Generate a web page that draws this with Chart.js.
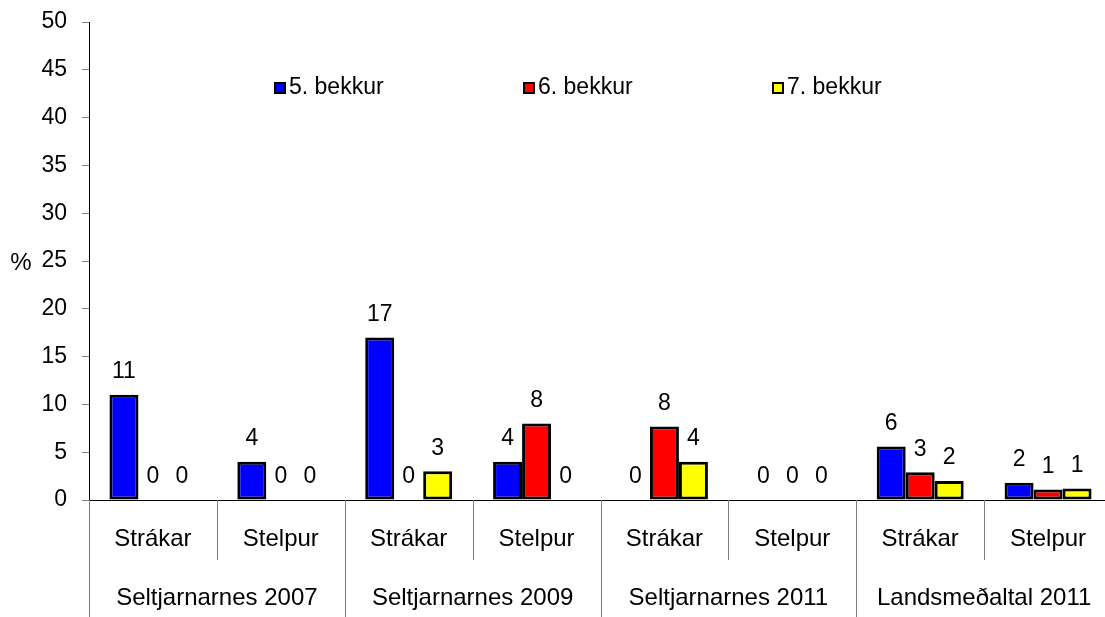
<!DOCTYPE html>
<html>
<head>
<meta charset="utf-8">
<script src="https://cdn.jsdelivr.net/npm/chart.js@4/dist/chart.umd.min.js"></script>
<style>
  html, body { margin: 0; padding: 0; background: #fff; overflow: hidden; }
  #wrap { width: 1112px; height: 617px; }
</style>
</head>
<body>
<div id="wrap"><canvas id="chart" width="1112" height="617"></canvas></div>
<script>
// data
const categories = ['Strákar', 'Stelpur', 'Strákar', 'Stelpur', 'Strákar', 'Stelpur', 'Strákar', 'Stelpur'];
const groups = ['Seltjarnarnes 2007', 'Seltjarnarnes 2009', 'Seltjarnarnes 2011', 'Landsmeðaltal 2011'];
const seriesNames = ['5. bekkur', '6. bekkur', '7. bekkur'];
const grade5 = [11, 4, 17, 4, 0, 0, 5.6, 1.8];
const grade6 = [0, 0, 0, 8, 7.7, 0, 2.9, 1.1];
const grade7 = [0, 0, 3, 0, 4, 0, 2, 1.2];
const yTicks = [0, 5, 10, 15, 20, 25, 30, 35, 40, 45, 50];

const colors = ['#0000ff', '#ff0000', '#ffff00'];
const FONT = '"Liberation Sans", Arial, sans-serif';

// value labels above bars
const valueLabels = {
    id: 'valueLabels',
    afterDatasetsDraw(chart) {
        const ctx = chart.ctx;
        ctx.save();
        ctx.font = '23px ' + FONT;
        ctx.fillStyle = '#000';
        ctx.textAlign = 'center';
        ctx.textBaseline = 'middle';
        chart.data.datasets.forEach((ds, i) => {
            chart.getDatasetMeta(i).data.forEach((bar, j) => {
                ctx.fillText(String(Math.round(ds.data[j])), bar.x, bar.y - 23);
            });
        });
        ctx.restore();
    }
};

// two-level category axis, legend and "%" label
const extras = {
    id: 'extras',
    afterDraw(chart) {
        const ctx = chart.ctx;
        const x = chart.scales.x;
        const area = chart.chartArea;
        const step = x.width / categories.length;
        ctx.save();

        // dividers under the axis
        ctx.strokeStyle = '#808080';
        ctx.lineWidth = 1;
        for (let i = 0; i < categories.length; i++) {
            const bx = Math.round(x.getPixelForValue(i) - step / 2) + 0.5;
            ctx.beginPath();
            ctx.moveTo(bx, area.bottom);
            ctx.lineTo(bx, i % 2 === 0 ? 617 : 560);
            ctx.stroke();
        }

        ctx.font = '24px ' + FONT;
        ctx.fillStyle = '#000';
        ctx.textAlign = 'center';
        ctx.textBaseline = 'middle';
        categories.forEach((c, i) => {
            ctx.fillText(c, x.getPixelForValue(i), 539);
        });
        groups.forEach((g, k) => {
            const cx = (x.getPixelForValue(2 * k) + x.getPixelForValue(2 * k + 1)) / 2;
            ctx.fillText(g, cx, 598);
        });

        // "%" axis label
        ctx.fillText('%', 21, 263);

        // legend
        const legendX = [275, 524, 773];
        ctx.font = '23px ' + FONT;
        ctx.textAlign = 'left';
        chart.data.datasets.forEach((ds, i) => {
            ctx.fillStyle = ds.backgroundColor;
            ctx.fillRect(legendX[i], 83, 10, 10);
            ctx.strokeStyle = '#000';
            ctx.lineWidth = 2;
            ctx.strokeRect(legendX[i], 83, 10, 10);
            ctx.fillStyle = '#000';
            ctx.fillText(ds.label, legendX[i] + 14, 88);
        });
        ctx.restore();
    }
};

function makeDataset(label, data, color) {
    return {
        label: label,
        data: data,
        backgroundColor: color,
        borderColor: '#000',
        borderWidth: ctx => (ctx.raw === 0 ? 0 : 3),
        borderSkipped: false,
        barPercentage: 1,
        categoryPercentage: 0.68
    };
}

new Chart(document.getElementById('chart'), {
    type: 'bar',
    data: {
        labels: categories,
        datasets: [
            makeDataset(seriesNames[0], grade5, colors[0]),
            makeDataset(seriesNames[1], grade6, colors[1]),
            makeDataset(seriesNames[2], grade7, colors[2])
        ]
    },
    options: {
        responsive: false,
        animation: false,
        devicePixelRatio: 1,
        layout: { padding: { top: 22, left: 0, right: 0, bottom: 0 } },
        plugins: {
            legend: { display: false },
            tooltip: { enabled: false }
        },
        scales: {
            x: {
                grid: { display: false },
                ticks: { display: false },
                border: { color: '#000', width: 1 },
                afterFit(scale) { scale.height = 117; }
            },
            y: {
                min: 0,
                max: 50,
                afterBuildTicks(scale) { scale.ticks = yTicks.map(v => ({ value: v })); },
                afterFit(scale) {
                    scale.width = 89;
                    scale.paddingTop = 0;
                    scale.paddingBottom = 0;
                },
                grid: {
                    drawOnChartArea: false,
                    drawTicks: true,
                    tickLength: 7,
                    color: '#808080'
                },
                border: { color: '#000', width: 1 },
                ticks: {
                    padding: 15,
                    color: '#000',
                    font: { family: FONT, size: 23 }
                }
            }
        }
    },
    plugins: [valueLabels, extras]
});
</script>
</body>
</html>
